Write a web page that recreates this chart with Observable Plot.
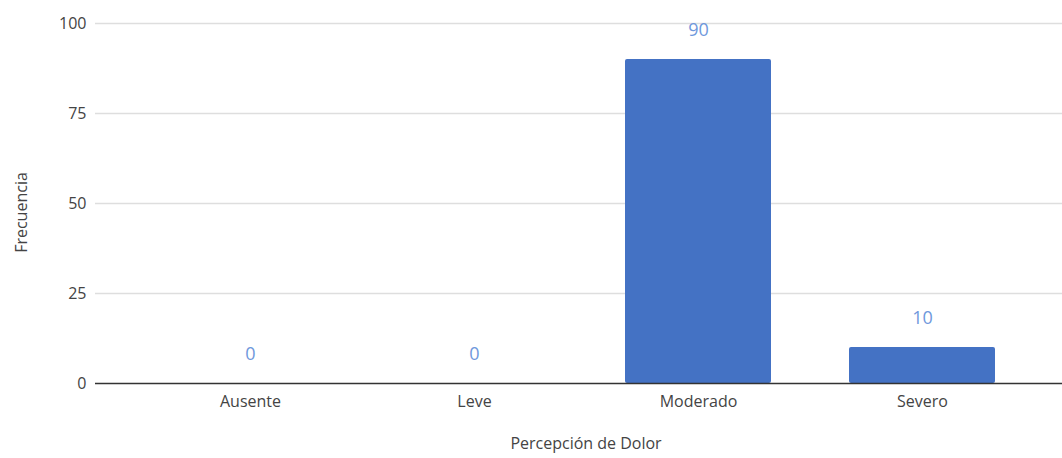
<!DOCTYPE html>
<html>
<head>
<meta charset="utf-8">
<script src="https://cdn.jsdelivr.net/npm/d3@7"></script>
<script src="https://cdn.jsdelivr.net/npm/@observablehq/plot@0.6"></script>
<style>
  html, body { margin: 0; padding: 0; background: #fff; }
</style>
</head>
<body>
<div id="chart"></div>
<script>
const categories = ["Ausente", "Leve", "Moderado", "Severo"];
const frecuencia = [0, 0, 90, 10];
const yTicks = [0, 25, 50, 75, 100];
const xTitle = "Percepción de Dolor";
const yTitle = "Frecuencia";

const data = categories.map((c, i) => ({cat: c, value: frecuencia[i]}));

const chart = Plot.plot({
  width: 1062,
  height: 458,
  marginLeft: 95,
  marginRight: 0,
  marginTop: 23,
  marginBottom: 75,
  style: {fontFamily: "'Open Sans', sans-serif", fontSize: "16px", color: "#444", background: "#fff"},
  x: {domain: categories, paddingInner: 0.35, paddingOuter: 0, insetLeft: 82, insetRight: 67, label: null},
  y: {domain: [0, 100], label: null},
  marks: [
    Plot.ruleY(yTicks.filter(d => d > 0), {stroke: "#dedede", strokeWidth: 1.5}),
    Plot.barY(data, {x: "cat", y: "value", fill: "#4472c4", rx: 2}),
    Plot.ruleY([0], {stroke: "#333", strokeWidth: 1.5}),
    Plot.text(data, {x: "cat", y: "value", text: d => String(d.value), dy: -29, fill: "#6f98dc", fontSize: 18}),
    Plot.axisY({ticks: yTicks, tickSize: 0, tickPadding: 9, label: null, fontSize: 16, fill: "#444"}),
    Plot.axisX({tickSize: 0, tickPadding: 12, label: null, fontSize: 16, fill: "#444"}),
    Plot.text([yTitle], {frameAnchor: "left", textAnchor: "middle", dx: -74, dy: 9, rotate: -90, fontSize: 16, fill: "#444"}),
    Plot.text([xTitle], {frameAnchor: "bottom", dx: 7, dy: 65, fontSize: 16, fill: "#444"})
  ]
});
document.getElementById("chart").appendChild(chart);
</script>
</body>
</html>
